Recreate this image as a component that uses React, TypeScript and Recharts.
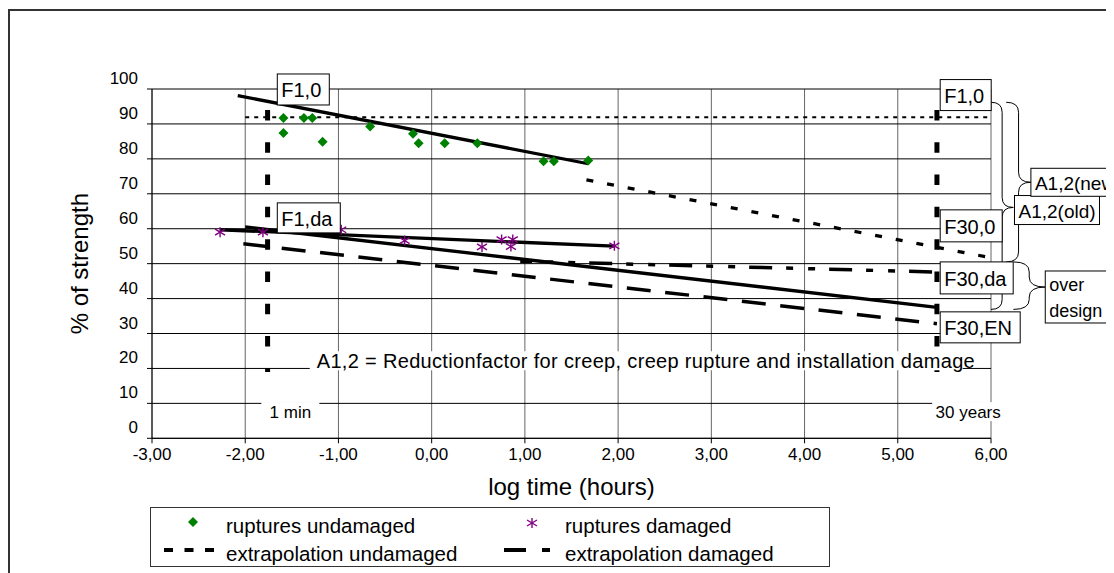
import React from "react"
import {
  ComposedChart,
  Line,
  Scatter,
  XAxis,
  YAxis,
  CartesianGrid,
  ReferenceLine,
  ReferenceDot,
  ReferenceArea,
  Label,
} from "recharts"

const FONT = '"Liberation Sans", Arial, Helvetica, sans-serif'

// ============ Data ============
const xTicks = [-3, -2, -1, 0, 1, 2, 3, 4, 5, 6]
const yTicks = [0, 10, 20, 30, 40, 50, 60, 70, 80, 90, 100]

// [log time (h), % of strength]
const rupturesUndamaged = [
  [-1.59, 91.7], [-1.59, 87.4], [-1.37, 91.7], [-1.28, 91.7], [-1.17, 84.9],
  [-0.66, 89.3], [-0.2, 87.2], [-0.14, 84.5], [0.14, 84.5], [0.49, 84.5],
  [1.2, 79.3], [1.31, 79.3], [1.68, 79.5],
]
const rupturesDamaged = [
  [-2.27, 59.0], [-1.81, 59.0], [-0.97, 59.7], [-0.29, 56.6], [0.54, 54.8],
  [0.75, 56.9], [0.85, 54.9], [0.87, 56.9], [1.96, 55.1],
]

const fitUndamaged = [[-2.08, 98.1], [1.68, 78.6]]
const extrapUndamaged = [[1.66, 74.0], [6.0, 51.7]]
const levelF10 = [[-2.0, 91.9], [6.0, 91.9]]
const fitDamaged = [[-2.27, 59.7], [1.96, 55.0]]
const fitDamagedLong = [[-2.0, 60.5], [5.42, 37.5]]
const extrapDamagedDa = [[0.95, 50.7], [5.42, 47.6]]
const extrapDamagedEN = [[-2.02, 55.7], [5.42, 32.8]]

const oneMinute = -1.76
const thirtyYears = 5.42
const markerSpan = [94, 19]

// ============ Annotation layout ============
const boxes = [
  { lines: ["F1,0"], x: -1.656, y: 104.3, w: 52, h: 31, fs: 20 },
  { lines: ["F1,da"], x: -1.656, y: 67.4, w: 63, h: 30, fs: 20 },
  { lines: ["F1,0"], x: 5.455, y: 102.7, w: 51, h: 31, fs: 20 },
  { lines: ["F30,0"], x: 5.455, y: 65.4, w: 62, h: 32, fs: 20 },
  { lines: ["F30,da"], x: 5.455, y: 50.5, w: 73, h: 32, fs: 20 },
  { lines: ["F30,EN"], x: 5.455, y: 36.2, w: 80, h: 31, fs: 20 },
  { lines: ["A1,2(old)"], x: 6.252, y: 69.5, w: 85, h: 29, fs: 19 },
  { lines: ["A1,2(new"], x: 6.428, y: 77.3, w: 95, h: 28, fs: 19 },
  { lines: ["over", "design"], x: 6.582, y: 47.9, w: 66, h: 52, fs: 18 },
]

const braces = [
  { x1: 6.0, x2: 6.239, top: 96.2, bottom: 36.9, tip: 66.1 },
  { x1: 6.163, x2: 6.428, top: 96.2, bottom: 50.5, tip: 73.3 },
  { x1: 6.24, x2: 6.58, top: 50.5, bottom: 36.9, tip: 43.3 },
]

const toXY = (pts: number[][]) => pts.map(([x, y]) => ({ x, y }))

// ============ Shapes ============
const Diamond = ({ cx, cy, s = 5 }: any) => (
  <polygon
    points={`${cx},${cy - s} ${cx + s},${cy} ${cx},${cy + s} ${cx - s},${cy}`}
    fill="#008000"
  />
)

const Star = ({ cx, cy, s = 5 }: any) => (
  <g stroke="#800080" strokeWidth={1.4}>
    <line x1={cx} y1={cy - s} x2={cx} y2={cy + s} />
    <line x1={cx - s} y1={cy - s * 0.6} x2={cx + s} y2={cy + s * 0.6} />
    <line x1={cx - s} y1={cy + s * 0.6} x2={cx + s} y2={cy - s * 0.6} />
  </g>
)

const BoxLabel = ({ cx, cy, lines, w, h, fs }: any) => {
  const step = h / lines.length
  return (
    <g>
      <rect x={cx} y={cy} width={w} height={h} fill="#fff" stroke="#000" strokeWidth={1} />
      {lines.map((t: string, i: number) => (
        <text
          key={i}
          x={cx + 4}
          y={cy + step * (i + 0.5) + 1}
          dominantBaseline="central"
          fontSize={fs}
          fontFamily={FONT}
          fill="#000"
        >
          {t}
        </text>
      ))}
    </g>
  )
}

const Brace = ({ x, y, width, height, f }: any) => {
  const x0 = x
  const x1 = x + width
  const xm = x + width / 2
  const y0 = y
  const y1 = y + height
  const ym = y + height * f
  const r = Math.min(10, (ym - y0) / 2, (y1 - ym) / 2)
  const d = `M${x0},${y0} Q${xm},${y0} ${xm},${y0 + r} L${xm},${ym - r} Q${xm},${ym} ${x1},${ym} Q${xm},${ym} ${xm},${ym + r} L${xm},${y1 - r} Q${xm},${y1} ${x0},${y1}`
  return <path d={d} fill="none" stroke="#000" strokeWidth={1} />
}

const PlainLabel = ({ cx, cy, text, w, fs }: any) => (
  <g>
    <rect x={cx - w / 2} y={cy - 10} width={w} height={19} fill="#fff" />
    <text
      x={cx}
      y={cy}
      textAnchor="middle"
      dominantBaseline="central"
      fontSize={fs}
      fontFamily={FONT}
      fill="#000"
    >
      {text}
    </text>
  </g>
)

const NoteLabel = ({ cx, cy }: any) => (
  <g>
    <rect x={cx - 7} y={cy - 9.5} width={653} height={19} fill="#fff" />
    <text
      x={cx}
      y={cy}
      dominantBaseline="central"
      fontSize={20}
      fontFamily={FONT}
      fill="#000"
      textLength={658}
      lengthAdjust="spacing"
    >
      A1,2 = Reductionfactor for creep, creep rupture and installation damage
    </text>
  </g>
)

const XTick = ({ x, y, payload }: any) => (
  <text x={x} y={y} dy={14} textAnchor="middle" fontSize={17} fontFamily={FONT} fill="#000">
    {payload.value.toFixed(2).replace(".", ",")}
  </text>
)

const YTick = ({ x, y, payload }: any) => (
  <text x={x} y={y} dx={-6} dy={-5} textAnchor="end" fontSize={17} fontFamily={FONT} fill="#000">
    {payload.value}
  </text>
)

// ============ Legend ============
function ChartLegend() {
  const txt = { fontSize: 20.5, fontFamily: FONT, fill: "#000" }
  return (
    <div
      style={{
        position: "absolute",
        left: 142,
        top: 498.7,
        width: 680,
        height: 60,
        border: "1.5px solid #333",
        boxSizing: "border-box",
        background: "#fff",
      }}
    >
      <svg width={677} height={57} style={{ display: "block", overflow: "visible" }}>
        <Diamond cx={42} cy={14} s={5} />
        <text x={75} y={17} dominantBaseline="central" {...txt}>ruptures undamaged</text>
        <Star cx={381} cy={15} s={5} />
        <text x={414} y={17} dominantBaseline="central" {...txt}>ruptures damaged</text>
        <line x1={13} y1={42} x2={63} y2={42} stroke="#000" strokeWidth={4} strokeDasharray="9 11.5" />
        <text x={75} y={45.5} dominantBaseline="central" {...txt}>extrapolation undamaged</text>
        <line x1={353} y1={42} x2={375} y2={42} stroke="#000" strokeWidth={4} />
        <line x1={391} y1={42} x2={399} y2={42} stroke="#000" strokeWidth={4} />
        <text x={414} y={45.5} dominantBaseline="central" {...txt}>extrapolation damaged</text>
      </svg>
    </div>
  )
}

// ============ Chart ============
export default function App() {
  return (
    <div style={{ position: "relative", width: 1106, height: 565, overflow: "hidden", background: "#fff" }}>
      <div
        style={{
          position: "absolute",
          left: 0,
          top: 1,
          width: 2000,
          height: 2000,
          border: "2px solid #333",
          boxSizing: "border-box",
          pointerEvents: "none",
        }}
      />
      <div style={{ position: "absolute", left: 0, top: 0 }}>
        <ComposedChart
          width={1106}
          height={565}
          margin={{ top: 81, right: 123, bottom: 104.7, left: 0 }}
        >
          <CartesianGrid horizontal={false} vertical stroke="#666" strokeWidth={1} />
          <CartesianGrid horizontal vertical={false} stroke="#000" strokeWidth={1} />
          <XAxis
            type="number"
            dataKey="x"
            domain={[-3, 6]}
            ticks={xTicks}
            interval={0}
            allowDataOverflow
            height={30}
            tickSize={5}
            tickMargin={3}
            stroke="#000"
            tick={<XTick />}
          >
            <Label
              content={({ viewBox }: any) => (
                <text
                  x={viewBox.x + viewBox.width / 2}
                  y={viewBox.y + 57}
                  textAnchor="middle"
                  fontSize={24}
                  fontFamily={FONT}
                  fill="#000"
                >
                  log time (hours)
                </text>
              )}
            />
          </XAxis>
          <YAxis
            type="number"
            dataKey="y"
            domain={[0, 100]}
            ticks={yTicks}
            interval={0}
            allowDataOverflow
            width={144}
            tickSize={5}
            tickMargin={3}
            stroke="#000"
            tick={<YTick />}
          >
            <Label
              content={({ viewBox }: any) => {
                const cx = 72
                const cy = viewBox.y + viewBox.height / 2
                return (
                  <text
                    x={cx}
                    y={cy}
                    transform={`rotate(-90 ${cx} ${cy})`}
                    textAnchor="middle"
                    dominantBaseline="central"
                    fontSize={24}
                    fontFamily={FONT}
                    fill="#000"
                  >
                    % of strength
                  </text>
                )
              }}
            />
          </YAxis>

          <Line data={toXY(levelF10)} dataKey="y" stroke="#000" strokeWidth={2} strokeDasharray="4 5" dot={false} activeDot={false} isAnimationActive={false} />
          <Line data={toXY(extrapUndamaged)} dataKey="y" stroke="#000" strokeWidth={3.3} strokeDasharray="7 14" dot={false} activeDot={false} isAnimationActive={false} />
          <Line data={toXY(extrapDamagedEN)} dataKey="y" stroke="#000" strokeWidth={3.5} strokeDasharray="24 14.6" dot={false} activeDot={false} isAnimationActive={false} />
          <Line data={toXY(extrapDamagedDa)} dataKey="y" stroke="#000" strokeWidth={3.5} strokeDasharray="23 14 7 15 7 14" strokeDashoffset={11} dot={false} activeDot={false} isAnimationActive={false} />
          <Line data={toXY(fitUndamaged)} dataKey="y" stroke="#000" strokeWidth={3.3} dot={false} activeDot={false} isAnimationActive={false} />
          <Line data={toXY(fitDamaged)} dataKey="y" stroke="#000" strokeWidth={3.3} dot={false} activeDot={false} isAnimationActive={false} />
          <Line data={toXY(fitDamagedLong)} dataKey="y" stroke="#000" strokeWidth={3.3} dot={false} activeDot={false} isAnimationActive={false} />

          <ReferenceLine
            segment={[{ x: oneMinute, y: markerSpan[0] }, { x: oneMinute, y: markerSpan[1] }]}
            stroke="#000"
            strokeWidth={5}
            strokeDasharray="10.5 21.8"
            ifOverflow="visible"
          />
          <ReferenceLine
            segment={[{ x: thirtyYears, y: markerSpan[0] }, { x: thirtyYears, y: markerSpan[1] }]}
            stroke="#000"
            strokeWidth={5}
            strokeDasharray="10.5 21.8"
            ifOverflow="visible"
          />

          <Scatter data={toXY(rupturesUndamaged)} dataKey="y" shape={(p: any) => <Diamond cx={p.cx} cy={p.cy} />} isAnimationActive={false} />
          <Scatter data={toXY(rupturesDamaged)} dataKey="y" shape={(p: any) => <Star cx={p.cx} cy={p.cy} />} isAnimationActive={false} />

          <ReferenceDot x={-1.233} y={22.2} r={0} ifOverflow="visible" shape={(p: any) => <NoteLabel cx={p.cx} cy={p.cy} />} />
          <ReferenceDot x={-1.516} y={7.5} r={0} ifOverflow="visible" shape={(p: any) => <PlainLabel cx={p.cx} cy={p.cy} text="1 min" w={58} fs={17} />} />
          <ReferenceDot x={5.755} y={7.5} r={0} ifOverflow="visible" shape={(p: any) => <PlainLabel cx={p.cx} cy={p.cy} text="30 years" w={72} fs={17} />} />

          {boxes.map((b, i) => (
            <ReferenceDot
              key={"b" + i}
              x={b.x}
              y={b.y}
              r={0}
              ifOverflow="visible"
              shape={(p: any) => <BoxLabel cx={p.cx} cy={p.cy} {...b} />}
            />
          ))}
          {braces.map((b, i) => (
            <ReferenceArea
              key={"br" + i}
              x1={b.x1}
              x2={b.x2}
              y1={b.bottom}
              y2={b.top}
              ifOverflow="visible"
              shape={(p: any) => <Brace {...p} f={(b.top - b.tip) / (b.top - b.bottom)} />}
            />
          ))}
        </ComposedChart>
      </div>
      <ChartLegend />
    </div>
  )
}
